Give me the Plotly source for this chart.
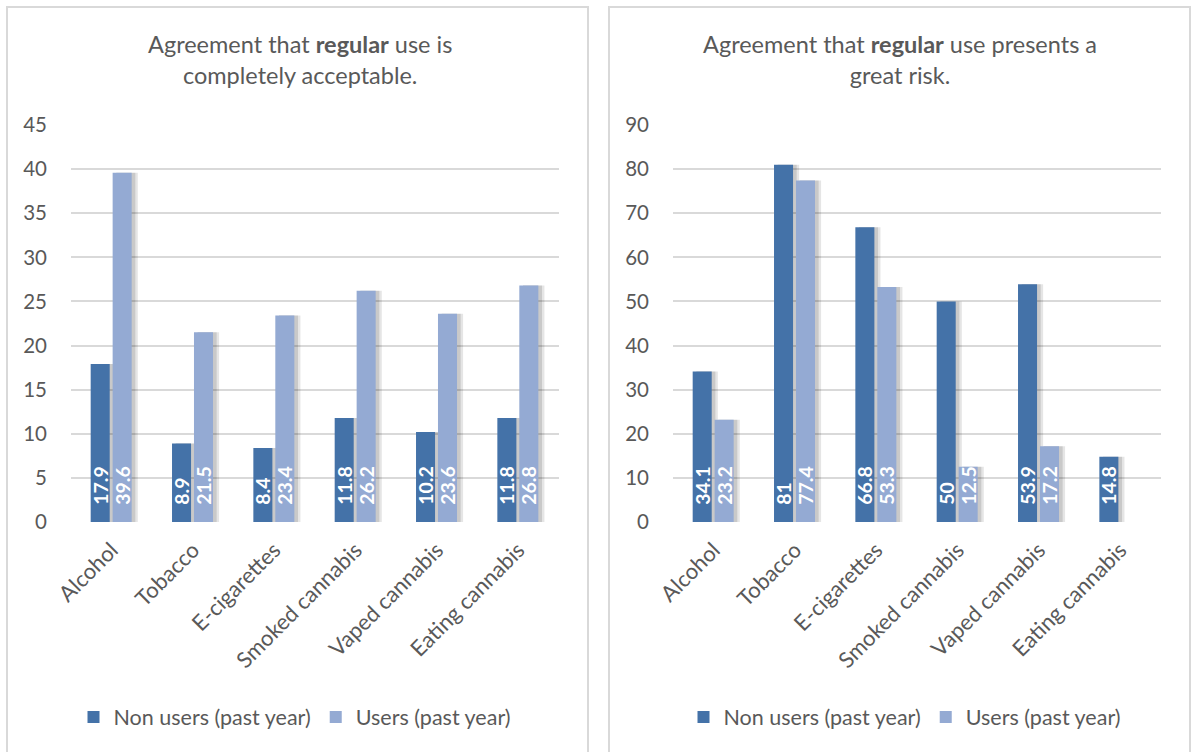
import plotly.graph_objects as go

categories = ["Alcohol", "Tobacco", "E-cigarettes", "Smoked cannabis", "Vaped cannabis", "Eating cannabis"]
series_names = ["Non users (past year)", "Users (past year)"]

acceptable_non_users = [17.9, 8.9, 8.4, 11.8, 10.2, 11.8]
acceptable_users = [39.6, 21.5, 23.4, 26.2, 23.6, 26.8]

risk_non_users = [34.1, 81, 66.8, 50, 53.9, 14.8]
risk_users = [23.2, 77.4, 53.3, 12.5, 17.2, 0]

left_ticks = [0, 5, 10, 15, 20, 25, 30, 35, 40, 45]
right_ticks = [0, 10, 20, 30, 40, 50, 60, 70, 80, 90]

W, H = 1193, 752
DARK = "#4472A8"
LIGHT = "#94AAD3"
GRAY = "#595959"
GRID = "#D9D9D9"
FONT = "Lato"
PAD = "\u00a0" * 3  # Excel-style inside-base gap before the label


def px_x(p):
    return p / W


def px_y(p):
    return 1 - p / H


fig = go.Figure()

bar_w = 0.234
offsets = [-0.258, 0.012]
shadow_shift = 0.045


def add_panel(xaxis, yaxis, legend, series):
    # soft drop shadows
    for vals, off in zip(series, offsets):
        fig.add_trace(go.Bar(
            x=categories, y=vals, xaxis=xaxis, yaxis=yaxis,
            width=bar_w + 0.03, offset=off + shadow_shift,
            marker=dict(color="rgba(0,0,0,0.10)", line=dict(width=0)),
            showlegend=False, hoverinfo="skip", legend=legend,
        ))
        fig.add_trace(go.Bar(
            x=categories, y=vals, xaxis=xaxis, yaxis=yaxis,
            width=bar_w, offset=off + shadow_shift,
            marker=dict(color="rgba(0,0,0,0.12)", line=dict(width=0)),
            showlegend=False, hoverinfo="skip", legend=legend,
        ))
    for vals, off, name, col in zip(series, offsets, series_names, [DARK, LIGHT]):
        fig.add_trace(go.Bar(
            x=categories, y=vals, xaxis=xaxis, yaxis=yaxis,
            width=bar_w, offset=off, name=name,
            marker=dict(color=col, line=dict(width=0)),
            text=[PAD + f"{v:g}" for v in vals],
            textposition="inside", insidetextanchor="start",
            textangle=-90, constraintext="none",
            textfont=dict(family=FONT, size=19.5, color="white", weight="bold"),
            cliponaxis=False, legend=legend,
        ))


add_panel("x", "y", "legend", [acceptable_non_users, acceptable_users])
add_panel("x2", "y2", "legend2", [risk_non_users, risk_users])

ytick = dict(tickfont=dict(family=FONT, size=20.5, color=GRAY),
             showline=False, zeroline=False, automargin=False)
xtick = dict(tickfont=dict(family=FONT, size=22, color=GRAY),
             showline=False, zeroline=False, automargin=False)

legend_common = dict(
    orientation="h", xanchor="center", y=px_y(717), yanchor="middle",
    font=dict(family=FONT, size=21.5, color=GRAY), itemwidth=30,
    bgcolor="rgba(0,0,0,0)", traceorder="normal", tracegroupgap=0,
)

fig.update_layout(
    width=W, height=H,
    margin=dict(l=0, r=0, t=0, b=0, autoexpand=False),
    paper_bgcolor="white", plot_bgcolor="white",
    barmode="overlay",
    font=dict(family=FONT, color=GRAY),
    xaxis=dict(domain=[px_x(71), px_x(559)], anchor="y", tickangle=-45,
               showgrid=False, ticks="", ticklabelstandoff=10, **xtick),
    yaxis=dict(domain=[px_y(522), px_y(125)], anchor="x", range=[0, 45],
               tickvals=left_ticks, showgrid=True, gridcolor=GRID, gridwidth=2,
               ticklabelstandoff=23, **ytick),
    xaxis2=dict(domain=[px_x(673), px_x(1161)], anchor="y2", tickangle=-45,
                showgrid=False, ticks="", ticklabelstandoff=10, **xtick),
    yaxis2=dict(domain=[px_y(522), px_y(125)], anchor="x2", range=[0, 90],
                tickvals=right_ticks, showgrid=True, gridcolor=GRID, gridwidth=2,
                ticklabelstandoff=23, **ytick),
    legend=dict(x=px_x(295), **legend_common),
    legend2=dict(x=px_x(905), **legend_common),
    showlegend=True,
)

fig.add_annotation(
    text="Agreement that <b>regular</b> use is<br>completely acceptable.",
    xref="paper", yref="paper", x=px_x(300), y=px_y(60), xanchor="center", yanchor="middle",
    showarrow=False, font=dict(family=FONT, size=23.5, color=GRAY), align="center",
)
fig.add_annotation(
    text="Agreement that <b>regular</b> use presents a<br>great risk.",
    xref="paper", yref="paper", x=px_x(900), y=px_y(60), xanchor="center", yanchor="middle",
    showarrow=False, font=dict(family=FONT, size=23.5, color=GRAY), align="center",
)

for x0, x1 in [(7, 588), (609, 1190)]:
    fig.add_shape(type="rect", xref="paper", yref="paper",
                  x0=px_x(x0), x1=px_x(x1), y0=-0.02, y1=px_y(7),
                  line=dict(color=GRID, width=2), fillcolor="rgba(0,0,0,0)", layer="below")

fig.write_html("out.html")
